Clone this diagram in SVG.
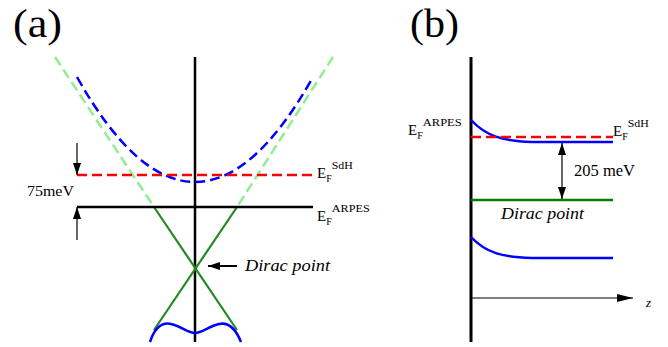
<svg xmlns="http://www.w3.org/2000/svg" width="668" height="347" viewBox="0 0 668 347">
<defs>
<style>
text{font-family:"Liberation Serif","Times New Roman",serif;fill:#000}
.it{font-style:italic}
.ax{stroke:#000;stroke-width:2.5;fill:none}
.dash{stroke-dasharray:10 5;fill:none;stroke-width:2.5}
.blue{stroke:#0000ff}
.red{stroke:#ff0000}
.lg{stroke:#90ee90}
.dg{stroke:#228b22;stroke-width:2.2;fill:none}
.arr{stroke:#000;stroke-width:1.2;fill:none}
</style>
<marker id="ah" viewBox="0 0 12 8" refX="12" refY="4" markerWidth="12" markerHeight="8" markerUnits="userSpaceOnUse" orient="auto-start-reverse">
<path d="M0,0 L12,4 L0,8 Z" fill="#000"/>
</marker>
<marker id="ahz" viewBox="0 0 16 8" refX="16" refY="4" markerWidth="16" markerHeight="8" markerUnits="userSpaceOnUse" orient="auto">
<path d="M0,0 L16,4 L0,8 Z" fill="#000"/>
</marker>
</defs>

<g id="panel-a">
<text x="13" y="37" font-size="40" textLength="49" lengthAdjust="spacingAndGlyphs">(a)</text>
<g id="a-axis"><line class="ax" x1="195" y1="57" x2="195" y2="342"/></g>
<g id="a-lightcone">
<line class="dash lg" x1="55" y1="57" x2="154" y2="207"/>
<line class="dash lg" x1="333" y1="57" x2="237" y2="207"/>
</g>
<g id="a-cone">
<line class="dg" x1="154" y1="207" x2="237" y2="330"/>
<line class="dg" x1="237" y1="207" x2="154" y2="330"/>
</g>
<g id="a-parabola"><path class="dash blue" d="M77,77 Q136,182 195,182 Q254,182 313,77"/></g>
<g id="a-valence"><path d="M150,342 C155,327 162,322 171,324 C181,326 188,333 195,333 C202,333 209,326 219,324 C228,322 235,327 241,342" stroke="#0000ff" stroke-width="2.5" fill="none"/></g>
<g id="a-efsdh">
<line class="dash red" x1="77" y1="175" x2="313" y2="175"/>
<text x="317" y="178" font-size="15">E<tspan font-size="10" dy="4">F</tspan><tspan font-size="11" dy="-13" textLength="21" lengthAdjust="spacingAndGlyphs">SdH</tspan></text>
</g>
<g id="a-efarpes">
<line class="ax" x1="77" y1="207" x2="313" y2="207"/>
<text x="317" y="221" font-size="15">E<tspan font-size="10" dy="4">F</tspan><tspan font-size="11" dy="-13" textLength="38" lengthAdjust="spacingAndGlyphs">ARPES</tspan></text>
</g>
<g id="a-75mev">
<line class="arr" x1="77" y1="143" x2="77" y2="175" marker-end="url(#ah)"/>
<line class="arr" x1="77" y1="240" x2="77" y2="207" marker-end="url(#ah)"/>
<text x="27" y="196" font-size="15" textLength="47" lengthAdjust="spacingAndGlyphs">75meV</text>
</g>
<g id="a-dirac">
<line x1="237" y1="266" x2="208" y2="266" stroke="#000" stroke-width="2" marker-end="url(#ah)"/>
<text class="it" x="245" y="271" font-size="16" textLength="85" lengthAdjust="spacingAndGlyphs">Dirac point</text>
</g>
</g>

<g id="panel-b">
<text x="410" y="37" font-size="40" textLength="49" lengthAdjust="spacingAndGlyphs">(b)</text>
<g id="b-axis"><line x1="471" y1="57" x2="471" y2="342" stroke="#000" stroke-width="3"/></g>
<g id="b-zaxis">
<line class="arr" x1="471" y1="298" x2="633" y2="298" marker-end="url(#ahz)"/>
<text class="it" x="646" y="307" font-size="13">z</text>
</g>
<g id="b-conduction"><path d="M471,120 C486,136 502,141 532,142 L613,142" stroke="#0000ff" stroke-width="2.5" fill="none"/></g>
<g id="b-efsdh">
<line class="dash red" x1="471" y1="137" x2="613" y2="137"/>
<text x="613" y="136" font-size="15">E<tspan font-size="10" dy="4">F</tspan><tspan font-size="11" dy="-13" textLength="21" lengthAdjust="spacingAndGlyphs">SdH</tspan></text>
</g>
<g id="b-efarpes">
<text x="408" y="135" font-size="15">E<tspan font-size="10" dy="4">F</tspan><tspan font-size="11" dy="-13" textLength="39" lengthAdjust="spacingAndGlyphs">ARPES</tspan></text>
</g>
<g id="b-dirac">
<line x1="471" y1="200" x2="613" y2="200" stroke="#008000" stroke-width="2.5"/>
<text class="it" x="501" y="219" font-size="16" textLength="83" lengthAdjust="spacingAndGlyphs">Dirac point</text>
</g>
<g id="b-gap">
<line class="arr" x1="562" y1="143" x2="562" y2="199" marker-start="url(#ah)" marker-end="url(#ah)"/>
<text x="574" y="176" font-size="16" textLength="61" lengthAdjust="spacingAndGlyphs">205 meV</text>
</g>
<g id="b-valence"><path d="M471,237 C486,253 502,257 532,258 L613,258" stroke="#0000ff" stroke-width="2.5" fill="none"/></g>
</g>
</svg>
